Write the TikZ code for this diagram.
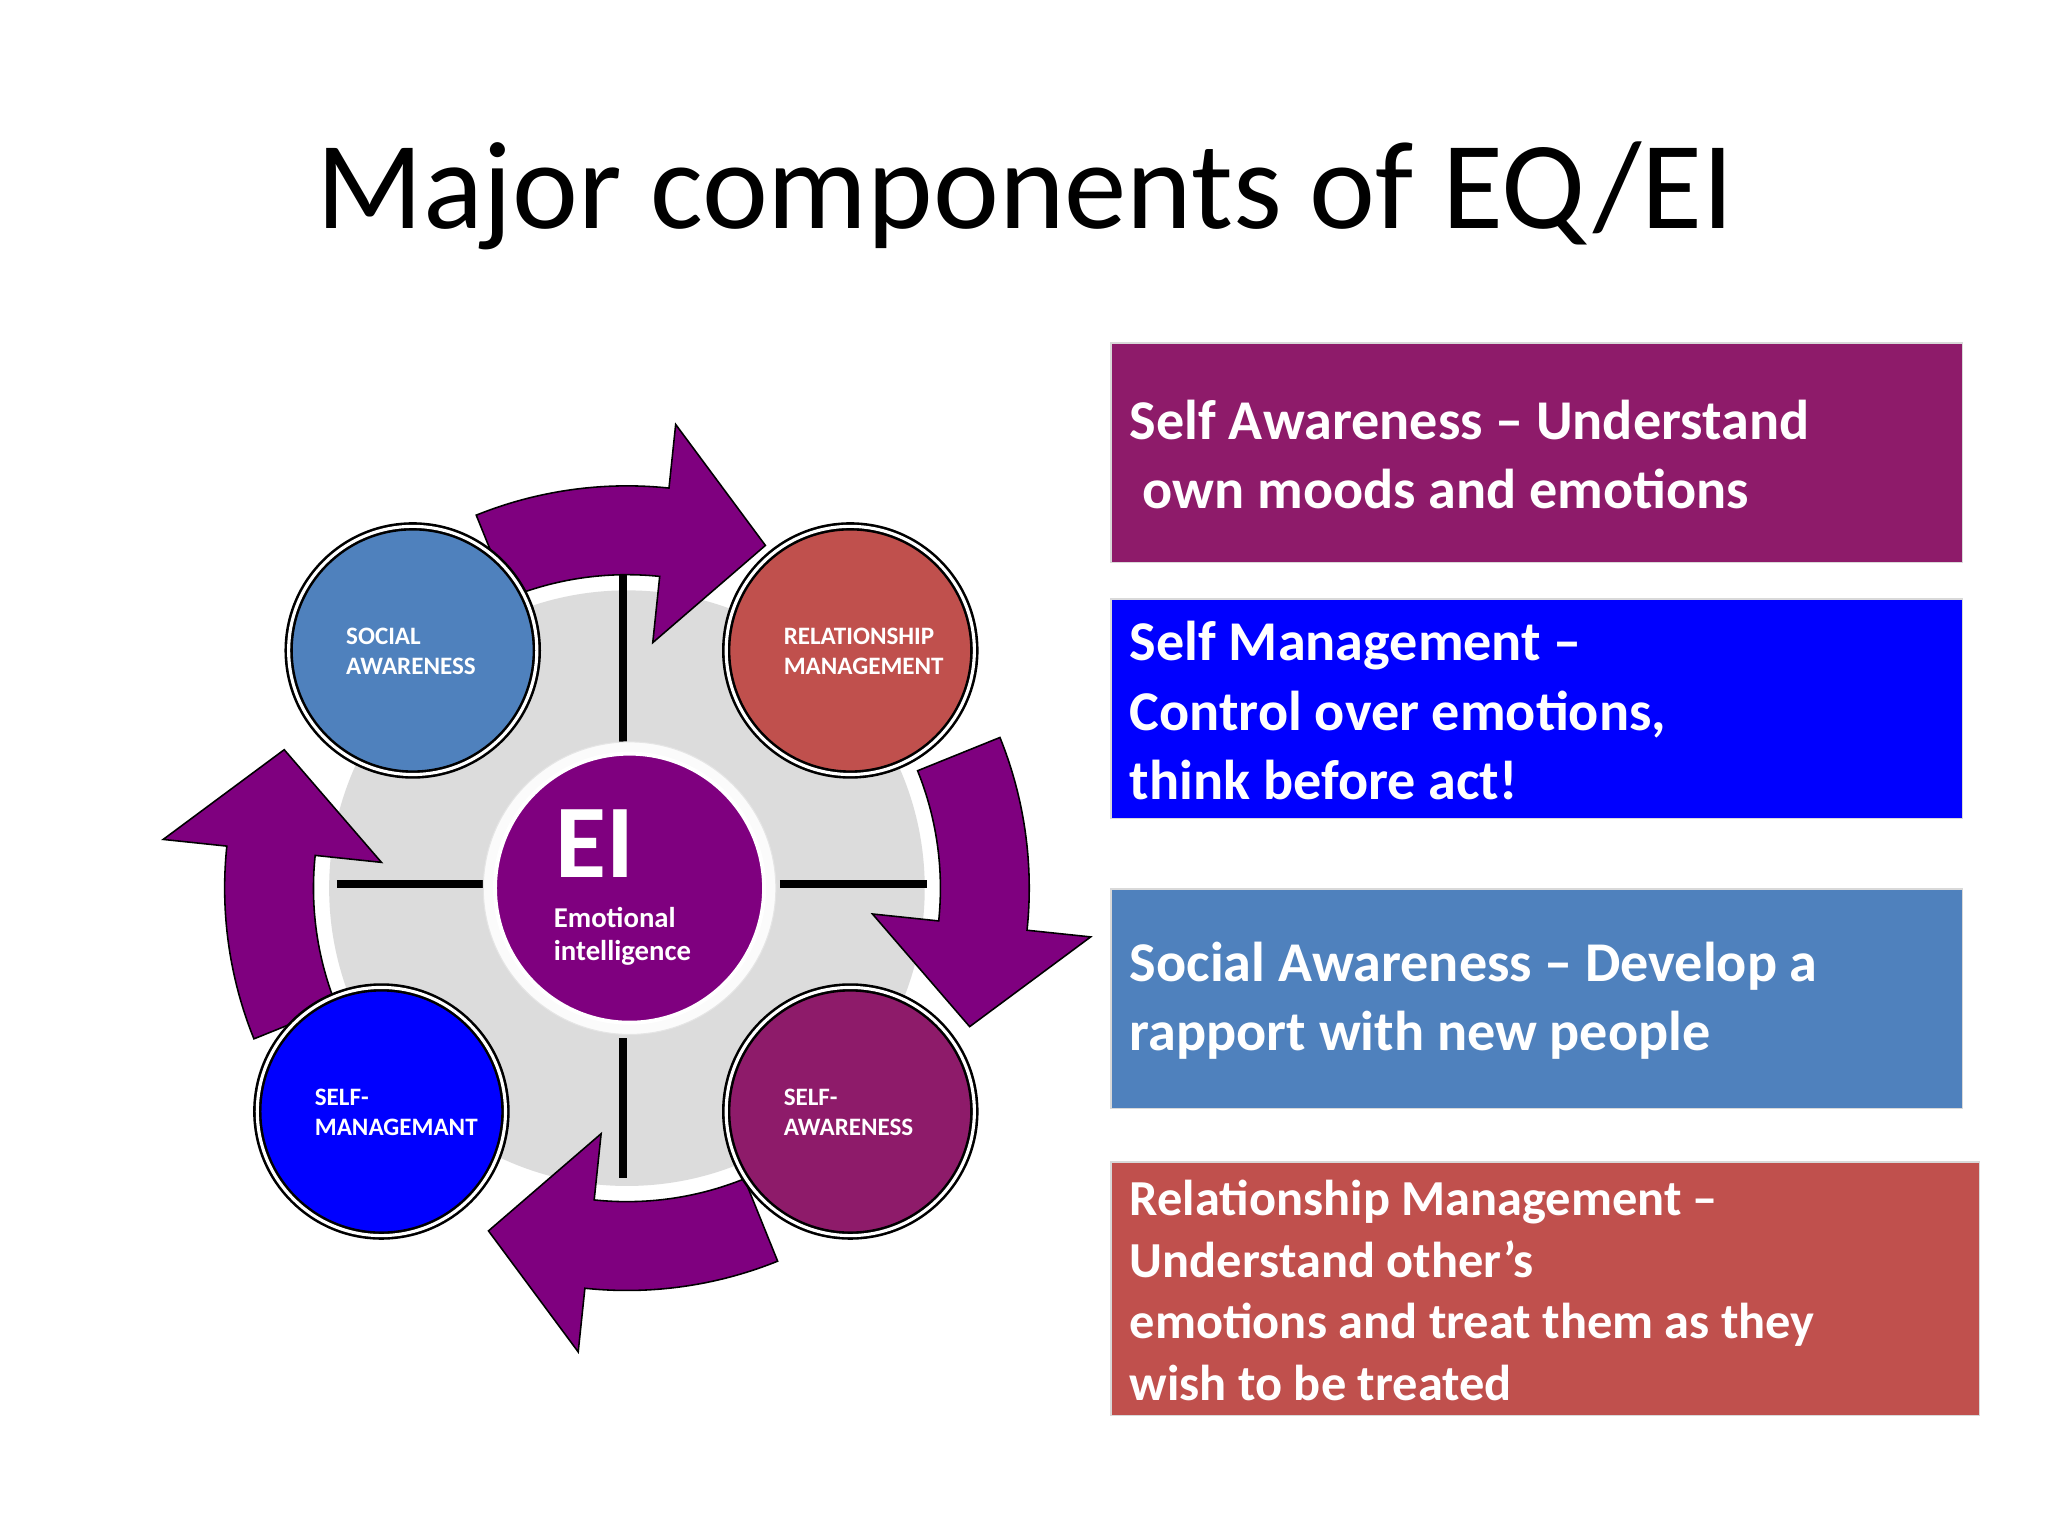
\documentclass[tikz,border=0pt]{standalone}
\usepackage{fontspec}
\setmainfont{Carlito}
\definecolor{pur}{HTML}{7F007F}
\definecolor{plum}{HTML}{8E1B6A}
\definecolor{steel}{HTML}{4F81BD}
\definecolor{brick}{HTML}{C0504D}
\definecolor{pblue}{HTML}{0000FF}
\definecolor{lgray}{HTML}{DCDCDC}
\tikzset{
  infobox/.style={fill=#1, draw=black!15, line width=0.6pt},
  infotext/.style={text=white, font=\bfseries\fontsize{21.5}{26.5}\selectfont, align=left, anchor=west},
  sat/.style={circle, minimum size=95pt, fill=#1, draw=black, line width=1pt, double=white, double distance=1.2pt, inner sep=0pt},
  sattext/.style={text=white, font=\bfseries\fontsize{9.6}{11.5}\selectfont, align=left, anchor=west},
  cross/.style={line width=3pt, black},
  arr/.style={fill=pur, draw=black, line width=0.6pt}
}
\begin{document}
\begin{tikzpicture}[x=0.5pt,y=-0.5pt]
\useasboundingbox (0,0) rectangle (1568,1176);
\fill[white] (0,0) rectangle (1568,1176);
\node[font=\fontsize{47.8}{57}\selectfont] (title) at (785,150) {Major components of EQ/EI};
% boxes
\node[infobox=plum, minimum width=326pt, minimum height=84pt, anchor=north west, inner sep=0pt] (b1) at (850,262) {};
\node[infotext] (t1) at (858,348) {Self Awareness -- Understand\\ \ own moods and emotions};
\node[infobox=pblue, minimum width=326pt, minimum height=84pt, anchor=north west, inner sep=0pt] (b2) at (850,458) {};
\node[infotext] (t2) at (858,544) {Self Management --\\Control over emotions,\\think before act!};
\node[infobox=steel, minimum width=326pt, minimum height=84pt, anchor=north west, inner sep=0pt] (b3) at (850,680) {};
\node[infotext] (t3) at (858,766) {Social Awareness -- Develop a\\rapport with new people};
\node[infobox=brick, minimum width=332.5pt, minimum height=97pt, anchor=north west, inner sep=0pt] (b4) at (850,889) {};
\node[infotext, font=\bfseries\fontsize{19.3}{23.5}\selectfont] (t4) at (858,988) {Relationship Management --\\Understand other’s\\emotions and treat them as they\\wish to be treated};
% diagram
\coordinate (C) at (480,680);
\fill[lgray] (C) circle[radius=228];
\foreach \r in {0,90,180,270}{
  \begin{scope}[shift={(C)}, rotate=\r]
  \filldraw[arr] (-112:240) arc[start angle=-112, end angle=-84, radius=240]
     -- (-84:189) -- (-68:283) -- (-84:357) -- (-84:308)
     arc[start angle=-84, end angle=-112, radius=308] -- cycle;
  \end{scope}
}
\draw[cross] (477,440) -- (477,570);
\draw[cross] (477,795) -- (477,902);
\draw[cross] (258,677) -- (370,677);
\draw[cross] (597,677) -- (710,677);
% center
\node[circle, minimum size=112pt, fill=white!90!lgray, draw=black!10, inner sep=0pt] (outer) at (482,680) {};
\node[circle, minimum size=103pt, fill=pur, draw=white, line width=1.5pt, inner sep=0pt] (ei) at (482,680) {};
\node[text=white, font=\bfseries\fontsize{40}{40}\selectfont, anchor=west] (eil) at (418,646) {EI};
\node[text=white, font=\bfseries\fontsize{11}{12.5}\selectfont, align=left, anchor=west] (eit) at (417,717) {Emotional\\intelligence};
% satellites
\node[sat=steel] (sa) at (316,498) {};
\node[sattext] at (258,499) {SOCIAL\\AWARENESS};
\node[sat=brick] (rm) at (651,498) {};
\node[sattext] at (593,499) {RELATIONSHIP\\MANAGEMENT};
\node[sat=pblue] (sm) at (292,851) {};
\node[sattext] at (234,852) {SELF-\\MANAGEMANT};
\node[sat=plum] (sw) at (651,851) {};
\node[sattext] at (593,852) {SELF-\\AWARENESS};
\end{tikzpicture}
\end{document}
